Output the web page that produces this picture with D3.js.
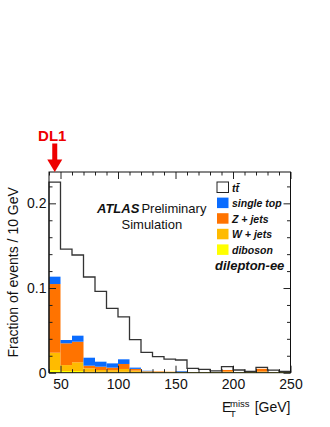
<!DOCTYPE html>
<html>
<head>
<meta charset="utf-8">
<script src="https://cdn.jsdelivr.net/npm/d3@7"></script>
<style>
  body { margin: 0; background: #fff; }
  svg text { font-family: "Liberation Sans", Arial, Helvetica, sans-serif; }
</style>
</head>
<body>
<svg id="CHART" width="330" height="427"></svg>
<script>
// lower edge of each 10 GeV bin
var BIN_LOW = [40, 50, 60, 70, 80, 90, 100, 110, 120, 130, 140, 150, 160, 170, 180, 190, 200, 210, 220, 230, 240];
var BIN_WIDTH = 10;

var TTBAR     = [0.225, 0.146, 0.139, 0.113, 0.096, 0.076, 0.066, 0.039, 0.024, 0.019, 0.016, 0.015, 0.0052, 0.004, 0.0022, 0.0071, 0.0032, 0.0015, 0.0064, 0.003, 0.0015];
var DIBOSON   = [0.003, 0.002, 0.002, 0.001, 0.001, 0.001, 0.001, 0.001, 0.0008, 0.0008, 0.0008, 0.0008, 0.0008, 0.0008, 0.0008, 0.0008, 0.0008, 0.0008, 0.0008, 0.0008, 0.0008];
var WJETS     = [0.0206, 0.007, 0.0103, 0.0042, 0.0022, 0.002, 0.0034, 0.0015, 0.0005, 0.0003, 0.0002, 0.0002, 0, 0, 0, 0.0006, 0, 0, 0.0006, 0, 0];
var ZJETS     = [0.0811, 0.0257, 0.0243, 0.0031, 0.0039, 0.003, 0.0059, 0.002, 0.0005, 0.0005, 0.0002, 0.0002, 0, 0, 0, 0.0018, 0, 0, 0.0032, 0, 0];
var SINGLETOP = [0.0087, 0.0039, 0.0071, 0.0094, 0.0059, 0.005, 0.0055, 0.0015, 0.0005, 0, 0, 0.0008, 0, 0, 0, 0, 0, 0, 0, 0, 0];

var X_MAJOR = [50, 100, 150, 200, 250];
var X_MINOR = [40, 60, 70, 80, 90, 110, 120, 130, 140, 160, 170, 180, 190, 210, 220, 230, 240];
var Y_MAJOR = [0, 0.1, 0.2];
var Y_MINOR = [0.02, 0.04, 0.06, 0.08, 0.12, 0.14, 0.16, 0.18, 0.22];

var LEGEND = [
  { key: "ttbar", label: "tt\u0304", color: "#fff" },
  { key: "singletop", label: "single top", color: "#0a6cff" },
  { key: "zjets", label: "Z + jets", color: "#ff7300" },
  { key: "wjets", label: "W + jets", color: "#ffbb00" },
  { key: "diboson", label: "diboson", color: "#ffff00" }
];

var chart = {
  create: function () {
    var margin = { left: 49, top: 172, right: 39.5, bottom: 54.3 };
    var width = 330 - margin.left - margin.right;
    var height = 427 - margin.top - margin.bottom;

    var svg = d3.select("#CHART");
    var g = svg.append("g")
      .attr("transform", "translate(" + margin.left + "," + margin.top + ")");

    var x = d3.scaleLinear().domain([40, 250]).range([0, width]);
    var y = d3.scaleLinear().domain([0, 0.237]).range([height, 0]);

    var colorOf = {};
    LEGEND.forEach(function (d) { colorOf[d.key] = d.color; });

    // stacked backgrounds
    var table = BIN_LOW.map(function (lo, i) {
      return {
        lo: lo,
        diboson: DIBOSON[i],
        wjets: WJETS[i],
        zjets: ZJETS[i],
        singletop: SINGLETOP[i]
      };
    });
    var series = d3.stack().keys(["diboson", "wjets", "zjets", "singletop"])(table);

    g.append("g")
      .selectAll("g")
      .data(series)
      .join("g")
      .attr("fill", function (d) { return colorOf[d.key]; })
      .selectAll("rect")
      .data(function (d) { return d; })
      .join("rect")
      .attr("x", function (d) { return x(d.data.lo); })
      .attr("width", function (d) { return x(d.data.lo + BIN_WIDTH) - x(d.data.lo); })
      .attr("y", function (d) { return y(d[1]); })
      .attr("height", function (d) { return Math.max(0, y(d[0]) - y(d[1])); });

    // ttbar outline
    var pts = [[40, 0]];
    BIN_LOW.forEach(function (lo, i) {
      pts.push([lo, TTBAR[i]]);
      pts.push([lo + BIN_WIDTH, TTBAR[i]]);
    });
    pts.push([250, 0]);

    g.append("path")
      .datum(pts)
      .attr("fill", "none")
      .attr("stroke", "#333")
      .attr("stroke-width", 1.3)
      .attr("d", d3.line()
        .x(function (d) { return x(d[0]); })
        .y(function (d) { return y(d[1]); }));

    // axes, ticks inside on all sides
    var drawAxis = function (axisFn, scale, values, size, withLabels, tr, fmt, pad) {
      var ax = axisFn(scale).tickValues(values).tickSize(-size);
      ax.tickFormat(withLabels ? fmt : "");
      if (pad !== undefined) ax.tickPadding(pad);
      var a = g.append("g").attr("transform", tr).call(ax);
      a.select(".domain").remove();
      a.selectAll("line").attr("stroke", "#222");
      a.selectAll("text").attr("font-size", 14).attr("fill", "#111");
      return a;
    };
    var fx = d3.format("d");
    var fy = function (d) { return d === 0 ? "0" : d3.format(".1f")(d); };

    drawAxis(d3.axisBottom, x, X_MAJOR, 7, true, "translate(0," + height + ")", fx, 6.5);
    drawAxis(d3.axisBottom, x, X_MINOR, 3.5, false, "translate(0," + height + ")");
    drawAxis(d3.axisTop, x, X_MAJOR, 7, false, "translate(0,0)");
    drawAxis(d3.axisTop, x, X_MINOR, 3.5, false, "translate(0,0)");
    drawAxis(d3.axisLeft, y, Y_MAJOR, 7, true, "translate(0,0)", fy, 2.5);
    drawAxis(d3.axisLeft, y, Y_MINOR, 3.5, false, "translate(0,0)");
    drawAxis(d3.axisRight, y, Y_MAJOR, 7, false, "translate(" + width + ",0)");
    drawAxis(d3.axisRight, y, Y_MINOR, 3.5, false, "translate(" + width + ",0)");

    g.append("rect")
      .attr("width", width)
      .attr("height", height)
      .attr("fill", "none")
      .attr("stroke", "#111")
      .attr("stroke-width", 1);

    // axis titles
    svg.append("text")
      .attr("transform", "translate(17.5," + (margin.top + height / 2) + ") rotate(-90)")
      .attr("text-anchor", "middle")
      .attr("font-size", 14)
      .attr("fill", "#111")
      .text("Fraction of events / 10 GeV");

    var xt = svg.append("g").attr("fill", "#111");
    xt.append("text").attr("x", 222).attr("y", 412).attr("font-size", 14).text("E");
    xt.append("text").attr("x", 230).attr("y", 406.5).attr("font-size", 9.5).text("miss");
    xt.append("text").attr("x", 230).attr("y", 417).attr("font-size", 9.5).text("T");
    xt.append("text").attr("x", 290.5).attr("y", 412).attr("font-size", 14)
      .attr("text-anchor", "end").text("[GeV]");

    // ATLAS label
    var lab = svg.append("text").attr("x", 97).attr("y", 213).attr("font-size", 13).attr("fill", "#111");
    lab.append("tspan").attr("font-weight", "bold").attr("font-style", "italic").text("ATLAS");
    lab.append("tspan").attr("dx", 2).text("Preliminary");
    svg.append("text").attr("x", 121.5).attr("y", 228.5).attr("font-size", 13).attr("fill", "#111")
      .text("Simulation");

    // legend
    var leg = svg.append("g").attr("transform", "translate(217,182)");
    var row = leg.selectAll("g")
      .data(LEGEND)
      .join("g")
      .attr("transform", function (d, i) { return "translate(0," + i * 15.6 + ")"; });
    row.append("rect")
      .attr("width", 11.5)
      .attr("height", 10.5)
      .attr("fill", function (d) { return d.color; })
      .attr("stroke", function (d) { return d.key === "ttbar" ? "#222" : "none"; })
      .attr("stroke-width", 1);
    row.append("text")
      .attr("x", 15)
      .attr("y", 9.5)
      .attr("font-size", 10.5)
      .attr("font-weight", "bold")
      .attr("font-style", "italic")
      .attr("fill", "#111")
      .text(function (d) { return d.label; });

    svg.append("text")
      .attr("x", 215)
      .attr("y", 270)
      .attr("font-size", 13)
      .attr("font-weight", "bold")
      .attr("font-style", "italic")
      .attr("fill", "#111")
      .text("dilepton-ee");

    // DL1 cut arrow at the first bin
    var ax0 = margin.left + x(45);
    var arrow = svg.append("g").attr("fill", "#ee0000");
    arrow.append("text")
      .attr("x", ax0 - 2.5)
      .attr("y", 140.5)
      .attr("text-anchor", "middle")
      .attr("font-size", 15)
      .attr("font-weight", "bold")
      .text("DL1");
    arrow.append("rect")
      .attr("x", ax0 - 2.5)
      .attr("y", 143.5)
      .attr("width", 5)
      .attr("height", 17);
    arrow.append("path")
      .attr("d", "M" + (ax0 - 7.5) + ",159.5L" + (ax0 + 7.5) + ",159.5L" + ax0 + "," + margin.top + "Z");

    return svg.node();
  }
};

chart.create();
</script>
</body>
</html>
